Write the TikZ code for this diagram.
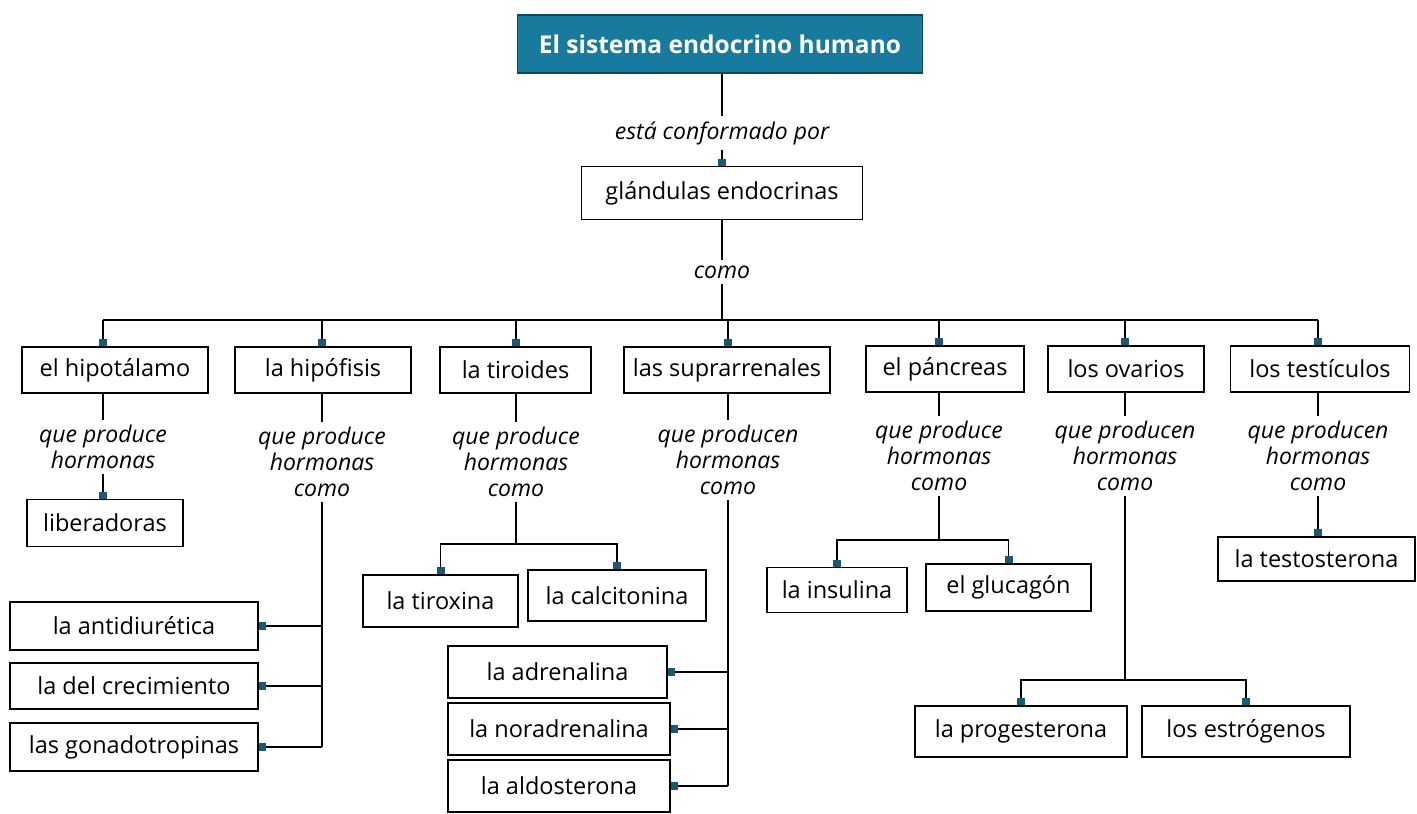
\documentclass[tikz,border=0pt]{standalone}
\usepackage{fontspec}
\setmainfont{Open Sans}
\usetikzlibrary{arrows.meta}
\definecolor{titlefill}{RGB}{24,122,156}
\definecolor{titledraw}{RGB}{16,70,95}
\definecolor{tipcol}{RGB}{28,88,115}
\begin{document}
\begin{tikzpicture}[x=1pt,y=-1pt,
  box/.style={draw, line width=1.4pt, inner sep=0pt, font=\fontsize{23.5}{26}\selectfont},
  lab/.style={font=\itshape\fontsize{23}{26}\selectfont, align=center, inner sep=5pt},
  conn/.style={line width=1.4pt, -{Square[length=7pt,width=8pt,color=tipcol]}},
  plain/.style={line width=1.4pt}
]
\useasboundingbox (0,0) rectangle (1417,814);

% title
\node[draw=titledraw, fill=titlefill, line width=1.2pt, text=white,
      font=\bfseries\fontsize{24.5}{28}\selectfont,
      minimum width=405, minimum height=58] (T) at (720,44) {El sistema endocrino humano};
\node[lab] (L0) at (722,133) {está conformado por};
\node[box, minimum width=281, minimum height=53] (G) at (722,193) {glándulas endocrinas};
\node[lab] (L1) at (722,272) {como};
\draw[plain] (T.south -| L0.north) -- (L0.north);
\draw[conn] (L0.south) -- (G.north);
\draw[plain] (G.south) -- (L1.north);
\coordinate (bus) at (722,320);
\draw[plain] (L1.south) -- (bus);

% level boxes
\node[box, minimum width=186, minimum height=46] (H1) at (115,370) {el hipotálamo};
\node[box, minimum width=176, minimum height=46] (H2) at (323,370) {la hipófisis};
\node[box, minimum width=151, minimum height=46] (H3) at (515.5,370) {la tiroides};
\node[box, minimum width=206, minimum height=46] (H4) at (727,370) {las suprarrenales};
\node[box, minimum width=158, minimum height=46] (H5) at (945,369) {el páncreas};
\node[box, minimum width=156, minimum height=46] (H6) at (1126,369) {los ovarios};
\node[box, minimum width=179, minimum height=46] (H7) at (1320,369) {los testículos};

% labels below level boxes
\node[lab] (Q1) at (103,447) {que produce\\hormonas};
\node[lab] (Q2) at (322,462) {que produce\\hormonas\\como};
\node[lab] (Q3) at (516,462) {que produce\\hormonas\\como};
\node[lab] (Q4) at (728,460) {que producen\\hormonas\\como};
\node[lab] (Q5) at (939,456) {que produce\\hormonas\\como};
\node[lab] (Q6) at (1125,456) {que producen\\hormonas\\como};
\node[lab] (Q7) at (1318,456) {que producen\\hormonas\\como};

% bus and drops
\draw[plain] (bus -| Q1.north) -- (bus -| Q7.north);
\foreach \i in {1,...,7}{
  \draw[conn] (bus -| Q\i.north) -- (H\i.north -| Q\i.north);
  \draw[plain] (H\i.south -| Q\i.north) -- (Q\i.north);
}

% children
\node[box, minimum width=156, minimum height=47] (lib) at (105,523) {liberadoras};
\draw[conn] (Q1.south) -- (Q1.south |- lib.north);

\node[box, minimum width=248, minimum height=48] (A1) at (134,626) {la antidiurética};
\node[box, minimum width=248, minimum height=46] (A2) at (134,686) {la del crecimiento};
\node[box, minimum width=248, minimum height=48] (A3) at (134,747) {las gonadotropinas};
\draw[plain] (Q2.south) -- (Q2.south |- A3.east);
\foreach \n in {A1,A2,A3}{
  \draw[conn] (Q2.south |- \n.east) -- (\n.east);
}

\node[box, minimum width=155, minimum height=52] (tx) at (440.5,601) {la tiroxina};
\node[box, minimum width=178, minimum height=51] (ct) at (617,595.5) {la calcitonina};
\coordinate (j3) at (516,544);
\draw[plain] (Q3.south) -- (j3);
\draw[conn] (j3) -| (tx.north);
\draw[conn] (j3) -| (ct.north);

\node[box, minimum width=219, minimum height=52] (ad) at (557.5,672) {la adrenalina};
\node[box, minimum width=222, minimum height=52] (nd) at (559,729) {la noradrenalina};
\node[box, minimum width=222, minimum height=52] (al) at (559,786) {la aldosterona};
\draw[plain] (Q4.south) -- (Q4.south |- al.east);
\foreach \n in {ad,nd,al}{
  \draw[conn] (Q4.south |- \n.east) -- (\n.east);
}

\node[box, minimum width=140, minimum height=45] (in) at (837,590) {la insulina};
\node[box, minimum width=165, minimum height=47] (gl) at (1008.5,587.5) {el glucagón};
\coordinate (j5) at (939,540);
\draw[plain] (Q5.south) -- (j5);
\draw[conn] (j5) -| (in.north);
\draw[conn] (j5) -| (gl.north);

\node[box, minimum width=212, minimum height=51] (pg) at (1021,731.5) {la progesterona};
\node[box, minimum width=208, minimum height=51] (es) at (1246,731.5) {los estrógenos};
\coordinate (j6) at (1125,680);
\draw[plain] (Q6.south) -- (j6);
\draw[conn] (j6) -| (pg.north);
\draw[conn] (j6) -| (es.north);

\node[box, minimum width=197, minimum height=44] (ts) at (1316.5,559) {la testosterona};
\draw[conn] (Q7.south) -- (Q7.south |- ts.north);
\end{tikzpicture}
\end{document}
